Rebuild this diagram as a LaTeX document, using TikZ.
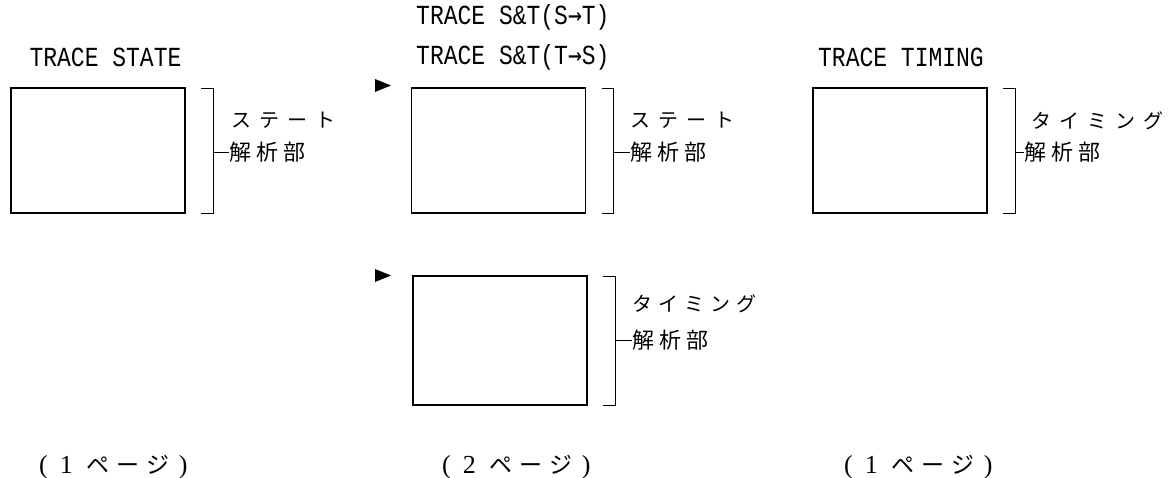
\documentclass[tikz,border=0pt]{standalone}
\usepackage{fontspec}
\usepackage{graphicx}
\newfontfamily\cjkfont{Noto Sans CJK JP}
\newfontfamily\monofont{Liberation Mono}
\newfontfamily\arrowfont{DejaVu Sans Mono}
\newfontfamily\seriffont{Liberation Serif}
\newcommand{\tall}[1]{\scalebox{1}[1.2]{#1}}
\newcommand{\arr}{{\arrowfont →}}
\newcommand{\gap}{\hspace{8pt}}
\newcommand{\pagelabel}[1]{{\seriffont\fontsize{26}{26}\selectfont (\hspace{12pt}#1\hspace{14pt}}{\cjkfont\fontsize{23}{23}\selectfont ペ\hspace{7pt}ー\hspace{7pt}ジ}{\seriffont\fontsize{26}{26}\selectfont\hspace{9pt})}}
\tikzset{
  screen/.style={draw, line width=1.8pt, minimum width=174pt, minimum height=125pt, inner sep=0pt, outer sep=0pt},
  lbl/.style={font=\monofont\fontsize{23}{23}\selectfont, inner sep=0pt},
  jp/.style={font=\cjkfont\fontsize{20}{20}\selectfont, inner sep=0pt},
  jpb/.style={font=\cjkfont\fontsize{22}{22}\selectfont, inner sep=0pt},
  pg/.style={inner sep=0pt, anchor=base west},
  brk/.style={line width=0.9pt},
  marker/.style={fill=black, draw=none}
}
\begin{document}
\begin{tikzpicture}[x=1pt,y=-1pt]
\useasboundingbox (0,0) rectangle (1169,478);

% screens
\node[screen] (b1) at (98,150.5) {};
\node[screen] (b2) at (498.5,150.5) {};
\node[screen] (b3) at (900,150.5) {};
\node[screen, minimum height=129pt] (b4) at (500,340.5) {};

% titles
\node[lbl] (t1) at (105.5,57) {\tall{TRACE STATE}};
\node[lbl, anchor=west] (t2a) at (416,17) {\tall{TRACE S\&T(S\arr T)}};
\node[lbl, anchor=west] (t2b) at (416,57) {\tall{TRACE S\&T(T\arr S)}};
\node[lbl] (t3) at (901,57) {\tall{TRACE TIMING}};

% markers
\fill[marker] (375,79) -- (375,92) -- (391,85.5) -- cycle;
\fill[marker] (375,269) -- (375,282) -- (391,275.5) -- cycle;

% brackets
\foreach \b in {b1,b2,b3,b4}{
  \draw[brk] ([xshift=16pt]\b.north east) -| ([xshift=28pt]\b.south east) -- ([xshift=16pt]\b.south east);
}

% labels
\node[jp, anchor=west] (s1) at (231,120) {ス\gap テ\gap ー\gap ト};
\node[jpb, anchor=west] (k1) at (229,152) {解\hspace{5pt}析\hspace{5pt}部};
\draw[brk] ([xshift=28pt]b1.east |- k1.west) -- (k1.west);

\node[jp, anchor=west] (s2) at (630,120) {ス\gap テ\gap ー\gap ト};
\node[jpb, anchor=west] (k2) at (630,152) {解\hspace{5pt}析\hspace{5pt}部};
\draw[brk] ([xshift=28pt]b2.east |- k2.west) -- (k2.west);

\node[jp, anchor=west] (s3) at (1031,121) {タ\gap イ\gap ミ\gap ン\gap グ};
\node[jpb, anchor=west] (k3) at (1024,152) {解\hspace{5pt}析\hspace{5pt}部};
\draw[brk] ([xshift=28pt]b3.east |- k3.west) -- (k3.west);

\node[jp, anchor=west] (s4) at (632,304) {タ\hspace{6pt}イ\hspace{6pt}ミ\hspace{6pt}ン\hspace{6pt}グ};
\node[jpb, anchor=west] (k4) at (632,340) {解\hspace{5pt}析\hspace{5pt}部};
\draw[brk] ([xshift=28pt]b4.east |- k4.west) -- (k4.west);

% page counts
\node[pg] (p1) at (39,473) {\pagelabel{1}};
\node[pg] (p2) at (442,473) {\pagelabel{2}};
\node[pg] (p3) at (844,473) {\pagelabel{1}};
\end{tikzpicture}
\end{document}
